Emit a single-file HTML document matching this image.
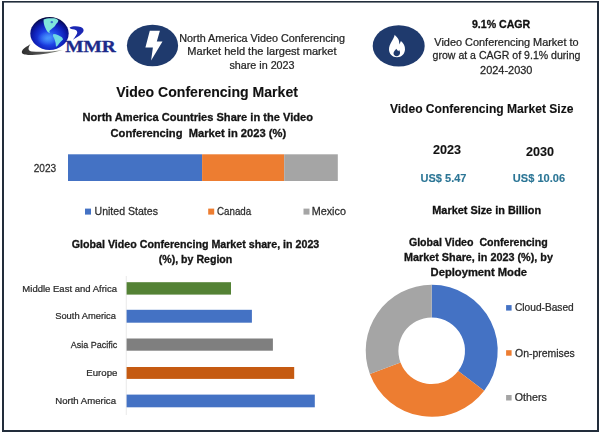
<!DOCTYPE html><html><head><meta charset="utf-8"><title>Video Conferencing Market</title>
<style>html,body{margin:0;padding:0;background:#fff;overflow:hidden;}svg{display:block;}text{font-family:"Liberation Sans",sans-serif;white-space:pre;}</style></head><body>
<svg width="600" height="434" viewBox="0 0 600 434">
<defs><radialGradient id="gl" cx="0.5" cy="0.62" r="0.6"><stop offset="0" stop-color="#3a7cff"/><stop offset="0.4" stop-color="#1c40e4"/><stop offset="0.7" stop-color="#0e1eb4"/><stop offset="0.9" stop-color="#081078"/><stop offset="1" stop-color="#050840"/></radialGradient><linearGradient id="sw" x1="0" y1="0.5" x2="1" y2="0.5"><stop offset="0" stop-color="#2e2e2e"/><stop offset="0.5" stop-color="#555555"/><stop offset="1" stop-color="#8a8f80"/></linearGradient><radialGradient id="glow"><stop offset="0" stop-color="#5ab8ff" stop-opacity="0.55"/><stop offset="1" stop-color="#5ab8ff" stop-opacity="0"/></radialGradient></defs>
<rect width="600" height="434" fill="#ffffff"/>
<rect x="2" y="1" width="597" height="1.6" fill="#222d3b"/>
<rect x="2" y="1" width="2" height="431" fill="#222d3b"/>
<rect x="597" y="1" width="2" height="431" fill="#222d3b"/>
<rect x="2" y="430" width="597" height="2" fill="#222d3b"/>
<path d="M30.5 44 C27 46.5 22 49 21.8 52 C21.8 54.5 26 55.2 32 55 C42 54.6 52 53 63 50 C52 51.8 40 52.3 32 51.5 C28 51 27.5 48.5 30.5 44 Z" fill="url(#sw)"/>
<ellipse cx="49.5" cy="33.5" rx="19.2" ry="16.4" fill="url(#gl)"/>
<path d="M43.6 19.4 C46 18.3 50 17.9 54 18.3 C56 18.6 57.6 19.4 58.4 20.4 C58.2 21.6 57.6 22.6 56.6 23.4 C55.8 24.2 55.6 25.2 54.8 26.2 C54 27.2 52.8 27.9 51.8 28.8 C50.8 29.7 49.8 30.4 49.4 31.3 C49.3 32 49.6 32.6 50 33.2 C48.9 32.9 48 32.2 47.3 31.4 C46.5 30.4 45.9 29.3 45.4 28.1 C44.8 26.7 44.2 25.2 43.9 23.7 C43.6 22.3 43.5 20.8 43.6 19.4 Z" fill="#80e6dc"/>
<ellipse cx="51.8" cy="22.2" rx="1.3" ry="1.1" fill="#2a58d0" opacity="0.8"/>
<path d="M53.4 34.1 C55 34.3 56.4 34.5 57.7 35 C59.4 35.6 61 36.6 62.1 37.6 C62.6 38.2 62.9 38.8 63 39.4 C62.2 40.3 61.3 41.1 60.4 42 C59.4 43.1 58.5 44.3 57.7 45.5 C57.2 46 56.6 46.5 56 46.8 C55.8 45.5 55.8 44.2 55.6 42.9 C55.3 41.4 54.8 39.9 54.2 38.5 C53.8 37.6 53.3 36.7 52.9 35.9 C52.9 35.3 53.1 34.7 53.4 34.1 Z" fill="#6fd9e2"/>
<ellipse cx="47" cy="38.5" rx="10" ry="7" fill="url(#glow)"/>
<path d="M69.6 27.6 C72 26 77 25.8 80.7 27 C83 28 84 29.5 83.5 31 C82.5 34 77 37.5 72.9 39.7 C75 37 77.5 34 77.2 32 C77 30 74.5 29.2 72.6 29.3 C71 29.3 70.2 28.6 69.6 27.6 Z" fill="#1b27b4"/>
<text x="65.2" y="52" font-family="Liberation Serif" font-weight="700" font-size="17.6" fill="#1c2a8a" stroke="#1c2a8a" stroke-width="0.35" textLength="50.6" lengthAdjust="spacingAndGlyphs" style="font-family:'Liberation Serif',serif">MMR</text>
<ellipse cx="152.5" cy="45.5" rx="25.6" ry="20.8" fill="#1f3a6d"/>
<path d="M149.8 30.8 L159.9 30.8 L156.8 41.6 L162.5 41.6 L151.1 60.6 L152.9 47.4 L145.4 47.4 Z" fill="#ffffff"/>
<ellipse cx="398.7" cy="45.9" rx="26" ry="20.6" fill="#1f3a6d"/>
<path d="M394.7 34.8 C395.5 36 397.5 37.5 398.5 39.5 C399.2 41 399.3 43 399.2 44.5 C399.8 43.5 400.5 42.2 400.9 41 C403.5 43 405.2 46 405 49.5 C404.8 54 401.5 57.2 397 57.2 C392.5 57.2 389 54 389 49.5 C389 44 393.5 40 394.7 34.8 Z" fill="#ffffff"/>
<path d="M396.2 48.8 C396.8 49.8 397.6 50.5 398.3 51.2 C398.6 50.7 398.9 50.3 399.1 49.9 C400 51 400.2 52.5 399.9 53.8 C399.5 55.3 398.2 56.2 396.7 56.2 C394.9 56.2 393.5 55 393.5 53.3 C393.5 51.3 395.6 50.3 396.2 48.8 Z" fill="#1f3a6d"/>
<rect x="68" y="154.3" width="134.1" height="26.7" fill="#4472c4"/>
<rect x="202.1" y="154.3" width="82.1" height="26.7" fill="#ed7d31"/>
<rect x="284.2" y="154.3" width="53.6" height="26.7" fill="#a5a5a5"/>
<rect x="85" y="208.6" width="6" height="6" fill="#4472c4"/>
<rect x="208.2" y="208.6" width="6" height="6" fill="#ed7d31"/>
<rect x="303.5" y="208.6" width="6" height="6" fill="#a5a5a5"/>
<rect x="125.8" y="276" width="0.8" height="139" fill="#e3e3e3"/>
<rect x="126.6" y="282.2" width="104.4" height="12.4" fill="#548235"/>
<rect x="126.6" y="309.8" width="125.3" height="12.9" fill="#4472c4"/>
<rect x="126.6" y="338.5" width="146.3" height="12.2" fill="#7f7f7f"/>
<rect x="126.6" y="367.0" width="167.6" height="11.9" fill="#c55a11"/>
<rect x="126.6" y="394.6" width="188.2" height="12.7" fill="#4472c4"/>
<path d="M431.70 284.80 A66 66 0 0 1 484.20 390.80 L458.19 370.98 A33.3 33.3 0 0 0 431.70 317.50 Z" fill="#4472c4"/>
<path d="M484.20 390.80 A66 66 0 0 1 369.88 373.91 L400.51 362.46 A33.3 33.3 0 0 0 458.19 370.98 Z" fill="#ed7d31"/>
<path d="M369.88 373.91 A66 66 0 0 1 431.70 284.80 L431.70 317.50 A33.3 33.3 0 0 0 400.51 362.46 Z" fill="#a5a5a5"/>
<rect x="506.1" y="305.1" width="5.5" height="5.5" fill="#4472c4"/>
<rect x="506.1" y="350.2" width="5.5" height="5.5" fill="#ed7d31"/>
<rect x="506.1" y="395.0" width="5.5" height="5.5" fill="#a5a5a5"/>
<g opacity="0.999">
<text transform="translate(179.34 41.80) scale(1.0190 1)" font-size="10.58" font-weight="400" fill="#262626" stroke="#262626" stroke-width="0.25">North America Video Conferencing</text>
<text transform="translate(187.31 55.40) scale(1.0295 1)" font-size="10.75" font-weight="400" fill="#262626" stroke="#262626" stroke-width="0.25">Market held the largest market</text>
<text transform="translate(229.38 68.80) scale(1.0187 1)" font-size="10.58" font-weight="400" fill="#262626" stroke="#262626" stroke-width="0.25">share in 2023</text>
<text transform="translate(471.93 27.90) scale(0.9766 1)" font-size="10.87" font-weight="700" fill="#111111" stroke="#111111" stroke-width="0.3">9.1% CAGR</text>
<text transform="translate(434.35 45.70) scale(1.0192 1)" font-size="10.72" font-weight="400" fill="#262626" stroke="#262626" stroke-width="0.25">Video Conferencing Market to</text>
<text transform="translate(432.58 59.30) scale(0.9868 1)" font-size="10.72" font-weight="400" fill="#262626" stroke="#262626" stroke-width="0.25">grow at a CAGR of 9.1% during</text>
<text transform="translate(480.05 73.70) scale(1.0219 1)" font-size="10.72" font-weight="400" fill="#262626" stroke="#262626" stroke-width="0.25">2024-2030</text>
<text transform="translate(116.16 96.70) scale(0.9715 1)" font-size="14.49" font-weight="700" fill="#111111" stroke="#111111" stroke-width="0.12">Video Conferencing Market</text>
<text transform="translate(82.58 120.90) scale(1.0370 1)" font-size="10.71" font-weight="700" fill="#141414" stroke="#141414" stroke-width="0.3">North America Countries Share in the Video</text>
<text transform="translate(110.55 136.80) scale(1.0395 1)" font-size="10.75" font-weight="700" fill="#141414" stroke="#141414" stroke-width="0.3">Conferencing  Market in 2023 (%)</text>
<text transform="translate(33.69 172.00) scale(0.8971 1)" font-size="11.30" font-weight="400" fill="#2c2c2c" stroke="#2c2c2c" stroke-width="0.25">2023</text>
<text transform="translate(94.51 215.30) scale(0.9870 1)" font-size="10.72" font-weight="400" fill="#2c2c2c" stroke="#2c2c2c" stroke-width="0.25">United States</text>
<text transform="translate(217.01 215.30) scale(0.9122 1)" font-size="10.72" font-weight="400" fill="#2c2c2c" stroke="#2c2c2c" stroke-width="0.25">Canada</text>
<text transform="translate(311.63 215.30) scale(1.0105 1)" font-size="10.72" font-weight="400" fill="#2c2c2c" stroke="#2c2c2c" stroke-width="0.25">Mexico</text>
<text transform="translate(71.77 248.00) scale(1.0512 1)" font-size="10.15" font-weight="700" fill="#141414" stroke="#141414" stroke-width="0.3">Global Video Conferencing Market share, in 2023</text>
<text transform="translate(158.77 263.00) scale(1.0417 1)" font-size="10.17" font-weight="700" fill="#141414" stroke="#141414" stroke-width="0.3">(%), by Region</text>
<text transform="translate(22.34 291.75) scale(0.9798 1)" font-size="9.71" font-weight="400" fill="#2c2c2c" stroke="#2c2c2c" stroke-width="0.25">Middle East and Africa</text>
<text transform="translate(55.18 319.20) scale(0.9645 1)" font-size="9.71" font-weight="400" fill="#2c2c2c" stroke="#2c2c2c" stroke-width="0.25">South America</text>
<text transform="translate(70.65 347.60) scale(0.9277 1)" font-size="9.71" font-weight="400" fill="#2c2c2c" stroke="#2c2c2c" stroke-width="0.25">Asia Pacific</text>
<text transform="translate(86.33 376.10) scale(0.9933 1)" font-size="9.71" font-weight="400" fill="#2c2c2c" stroke="#2c2c2c" stroke-width="0.25">Europe</text>
<text transform="translate(55.23 403.60) scale(0.9895 1)" font-size="9.71" font-weight="400" fill="#2c2c2c" stroke="#2c2c2c" stroke-width="0.25">North America</text>
<text transform="translate(389.88 112.70) scale(0.9932 1)" font-size="12.17" font-weight="700" fill="#111111" stroke="#111111" stroke-width="0.12">Video Conferencing Market Size</text>
<text transform="translate(433.06 153.70) scale(1.0127 1)" font-size="12.46" font-weight="700" fill="#111111" stroke="#111111" stroke-width="0.12">2023</text>
<text transform="translate(526.06 156.30) scale(1.0194 1)" font-size="12.32" font-weight="700" fill="#111111" stroke="#111111" stroke-width="0.12">2030</text>
<text transform="translate(420.54 181.70) scale(0.9506 1)" font-size="11.59" font-weight="700" fill="#2b7595" stroke="#2b7595" stroke-width="0.12">US$ 5.47</text>
<text transform="translate(512.84 181.70) scale(0.9538 1)" font-size="11.59" font-weight="700" fill="#2b7595" stroke="#2b7595" stroke-width="0.12">US$ 10.06</text>
<text transform="translate(432.29 214.40) scale(1.0160 1)" font-size="10.72" font-weight="700" fill="#111111" stroke="#111111" stroke-width="0.3">Market Size in Billion</text>
<text transform="translate(408.88 246.00) scale(1.0625 1)" font-size="10.00" font-weight="700" fill="#141414" stroke="#141414" stroke-width="0.3">Global Video  Conferencing</text>
<text transform="translate(404.00 260.70) scale(1.0507 1)" font-size="10.30" font-weight="700" fill="#141414" stroke="#141414" stroke-width="0.3">Market Share, in 2023 (%), by</text>
<text transform="translate(430.57 275.70) scale(1.0721 1)" font-size="10.46" font-weight="700" fill="#141414" stroke="#141414" stroke-width="0.3">Deployment Mode</text>
<text transform="translate(514.99 310.80) scale(0.9881 1)" font-size="10.29" font-weight="400" fill="#2c2c2c" stroke="#2c2c2c" stroke-width="0.25">Cloud-Based</text>
<text transform="translate(515.03 356.50) scale(1.0157 1)" font-size="10.29" font-weight="400" fill="#2c2c2c" stroke="#2c2c2c" stroke-width="0.25">On-premises</text>
<text transform="translate(514.82 401.30) scale(1.0351 1)" font-size="10.29" font-weight="400" fill="#2c2c2c" stroke="#2c2c2c" stroke-width="0.25">Others</text>
</g>
</svg></body></html>
